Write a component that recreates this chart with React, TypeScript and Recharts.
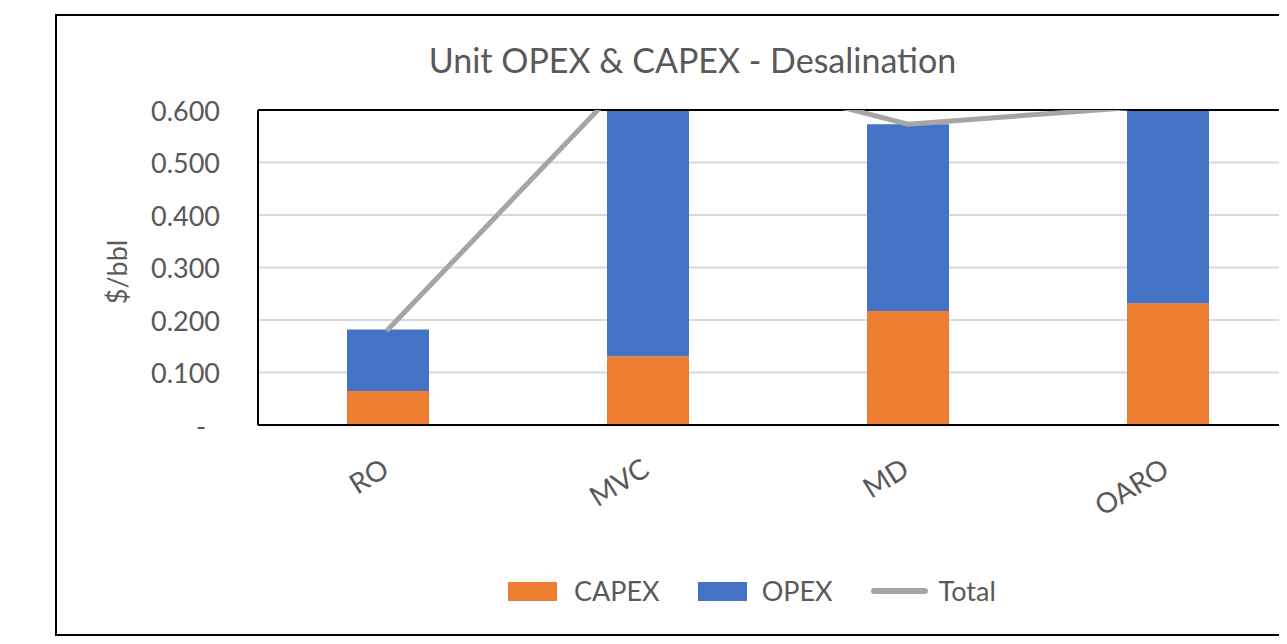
import React from 'react';
import { ComposedChart, Bar, Line, XAxis, YAxis, CartesianGrid, ReferenceLine } from 'recharts';

const categories = ['RO', 'MVC', 'MD', 'OARO'];
const capex = [0.065, 0.131, 0.217, 0.232];
const opex = [0.117, 0.569, 0.356, 0.378];
const total = [0.182, 0.7, 0.573, 0.61];
const yTicks = [0, 0.1, 0.2, 0.3, 0.4, 0.5, 0.6];

const data = categories.map((c, i) => ({ name: c, CAPEX: capex[i], OPEX: opex[i], Total: total[i] }));

const FONT = 'Lato, "Noto Sans", sans-serif';
const TXT = '#595959';
const C_CAPEX = '#ED7D31';
const C_OPEX = '#4472C4';
const C_TOTAL = '#A5A5A5';

const legendItems = [
  { name: 'CAPEX', color: C_CAPEX, kind: 'rect', gap: 17 },
  { name: 'OPEX', color: C_OPEX, kind: 'rect', gap: 15 },
  { name: 'Total', color: C_TOTAL, kind: 'line', gap: 11 },
];

const YTick = (props: any) => {
  const { x, y, payload } = props;
  const v = payload.value;
  const label = v === 0 ? '-' : v.toFixed(3);
  return (
    <text x={v === 0 ? x - 14 : x} y={y} textAnchor="end" dominantBaseline="central" fill={TXT} fontSize={27} fontFamily={FONT}>
      {label}
    </text>
  );
};

const XTick = (props: any) => {
  const { x, y, payload } = props;
  const tx = x + 3;
  const ty = y + 49;
  return (
    <text x={tx} y={ty} textAnchor="end" fill={TXT} fontSize={28} fontFamily={FONT} transform={`rotate(-32, ${tx}, ${ty})`}>
      {payload.value}
    </text>
  );
};

export default function App() {
  return (
    <div style={{ position: 'relative', width: 1279, height: 636, overflow: 'hidden', background: '#fff' }}>
      <div style={{ position: 'absolute', left: 47, top: 6, width: 1320, height: 622, border: '2px solid #000', boxSizing: 'border-box' }} />
      <div style={{ position: 'absolute', left: 684.5, top: 32, transform: 'translateX(-50%)', whiteSpace: 'nowrap', fontFamily: FONT, fontSize: 34, color: TXT, lineHeight: '40px' }}>
        Unit OPEX &amp; CAPEX - Desalination
      </div>
      <div style={{ position: 'absolute', left: 0, top: 0 }}>
        <ComposedChart width={1320} height={628} data={data} margin={{ top: 102, right: 30, left: 0, bottom: 0 }} barCategoryGap={0}>
          <CartesianGrid vertical={false} stroke="#D9D9D9" strokeWidth={2} />
          <XAxis dataKey="name" height={211} tickSize={0} tickMargin={0} tickLine={false} axisLine={{ stroke: '#000', strokeWidth: 2 }} tick={<XTick />} interval={0} />
          <YAxis width={250} domain={[0, 0.6]} ticks={yTicks} allowDataOverflow tickSize={0} tickMargin={38} tickLine={false} axisLine={{ stroke: '#000', strokeWidth: 2 }} tick={<YTick />} interval={0} />
          <Bar dataKey="CAPEX" stackId="s" fill={C_CAPEX} barSize={82} isAnimationActive={false} />
          <Bar dataKey="OPEX" stackId="s" fill={C_OPEX} barSize={82} isAnimationActive={false} />
          <ReferenceLine y={0.6} stroke="#000" strokeWidth={2} />
          <Line dataKey="Total" stroke={C_TOTAL} strokeWidth={5} dot={false} type="linear" strokeLinecap="round" isAnimationActive={false} />
        </ComposedChart>
      </div>
      <svg style={{ position: 'absolute', left: 0, top: 0, pointerEvents: 'none' }} width={200} height={628}>
        <text x={119} y={264} textAnchor="middle" fill={TXT} fontSize={27} fontFamily={FONT} transform="rotate(-90, 119, 264)">$/bbl</text>
      </svg>
      <div style={{ position: 'absolute', left: 500, top: 566, height: 34, display: 'flex', alignItems: 'center', fontFamily: FONT, fontSize: 27, color: TXT }}>
        {legendItems.map((it, i) => (
          <div key={it.name} style={{ display: 'flex', alignItems: 'center', marginRight: i < legendItems.length - 1 ? 38 : 0 }}>
            {it.kind === 'rect' ? (
              <div style={{ width: 49, height: 19, background: it.color, marginRight: it.gap }} />
            ) : (
              <div style={{ width: 57, height: 6, borderRadius: 3, background: it.color, marginRight: it.gap }} />
            )}
            <span style={{ lineHeight: '34px' }}>{it.name}</span>
          </div>
        ))}
      </div>
    </div>
  );
}
